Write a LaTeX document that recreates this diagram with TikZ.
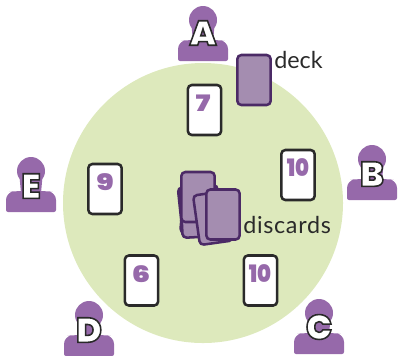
\documentclass[tikz,border=0pt]{standalone}
\usepackage{fontspec}
\setmainfont{Lato}
\newfontface\numfont{Poppins Black}[FakeStretch=0.88]
\newfontface\numwide{Poppins Black}[FakeStretch=1.28]
\newfontface\letfont{Poppins Black}[FakeBold=4.5]
\newfontface\widecap{Lato}[LetterSpace=3]
\definecolor{tablegreen}{HTML}{DDE9BC}
\definecolor{personpurple}{HTML}{9669AA}
\definecolor{backfill}{HTML}{A48DB0}
\definecolor{backline}{HTML}{4B2A66}
\definecolor{inkdark}{HTML}{2A2A2A}
\tikzset{
  x=0.75pt,y=-0.75pt,
  cardbase/.style={minimum width=25pt,minimum height=37.5pt,rounded corners=3pt,line width=1.9pt,inner sep=0pt,draw},
  facecard/.style={cardbase,draw=inkdark,fill=white},
  backcard/.style={cardbase,draw=backline,fill=backfill},
  cardnum/.style={text=personpurple,font=\numfont\fontsize{18pt}{18pt}\selectfont,inner sep=0pt},
  cardwide/.style={text=personpurple,font=\numwide\fontsize{17pt}{17pt}\selectfont,inner sep=0pt},
  capt/.style={text=inkdark,font=\fontsize{17.5pt}{17.5pt}\selectfont,inner sep=0pt,anchor=base west},
  head/.style={circle,fill=personpurple,minimum size=21pt,inner sep=0pt},
  letterlab/.style={inner sep=0pt,font=\letfont\fontsize{26pt}{26pt}\selectfont},
}
\newcommand{\outlined}[1]{\special{pdf:code 0.16 0.16 0.16 RG 1 1 1 rg}#1}
\newcommand{\person}[4]{%
  \fill[personpurple] (#1-12,#2) -- (#1-10,#2+22) -- (#1+10,#2+22) -- (#1+12,#2) -- cycle;
  \fill[personpurple,rounded corners=1.5pt] (#1-25,#2+41) [rounded corners=6pt] -- (#1-25,#2+21) -- (#1-14,#2+20) -- (#1+14,#2+20) -- (#1+25,#2+21) [rounded corners=1.5pt] -- (#1+25,#2+41) -- cycle;
  \node[head] (head#3) at (#1,#2) {};
  \node[letterlab] (let#3) at (#1,#2+#4) {\outlined{#3}};
}
\begin{document}
\begin{tikzpicture}
\useasboundingbox (0,0) rectangle (398,355);
\fill[tablegreen] (203,203) circle [radius=140];
\person{203}{20}{A}{13}
\person{372}{159}{B}{15}
\person{319}{313}{C}{14}
\person{89}{315}{D}{15}
\person{31}{171}{E}{15}
\node[facecard] (c7) at (204.5,110) {};
\node[cardwide] (n7) at (203,103) {7};
\node[facecard] (c10b) at (298,175) {};
\node[cardnum] (n10b) at (298,168) {10};
\node[facecard] (c10c) at (260.5,280.5) {};
\node[cardnum] (n10c) at (260,274) {10};
\node[facecard] (c6) at (141.5,280.5) {};
\node[cardwide] (n6) at (141,274) {6};
\node[facecard] (c9) at (105,189) {};
\node[cardwide] (n9) at (105,182) {9};
\node[backcard] (deck) at (254,80) {};
\node[capt] (deckt) at (274,68) {deck};
\node[backcard,rotate=-5] (d1) at (199,209) {};
\node[backcard,rotate=6] (d2) at (197,211) {};
\node[backcard,rotate=3] (d2b) at (198,212) {};
\node[backcard] (d3) at (198,197) {};
\node[backcard,rotate=8] (d4) at (213,218) {};
\node[backcard] (d5) at (223,214.5) {};
\node[capt,font=\widecap\fontsize{17.5pt}{17.5pt}\selectfont] (disct) at (243,233) {discards};
\end{tikzpicture}
\end{document}
